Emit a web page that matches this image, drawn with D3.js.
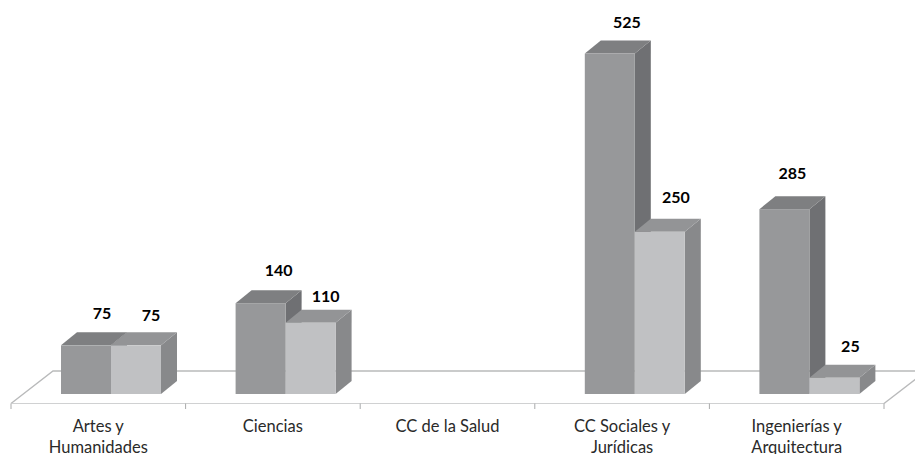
<!DOCTYPE html>
<html><head><meta charset="utf-8">
<script src="https://cdnjs.cloudflare.com/ajax/libs/d3/7.8.5/d3.min.js"></script>
<style>html,body{margin:0;padding:0;background:#fff}svg{display:block}text{font-family:Lato,"Open Sans",sans-serif}</style>
</head><body><svg id="c" width="915" height="454"></svg>
<script>
const categories = ["Artes y|Humanidades","Ciencias","CC de la Salud","CC Sociales y|Jurídicas","Ingenierías y|Arquitectura"];
const seriesNames = ["A","B"];
const valuesA = [75,140,0,525,285];
const valuesB = [75,110,0,250,25];
const nudgeA = [[-1,0],[1,-1],[0,0],[0,0],[-9,-4]];
const nudgeB = [[-2,2],[-2,5],[0,0],[-1,-3],[-1,0]];
const colorsA = {front:"#97989a",top:"#7e7f81",side:"#6f7073"};
const colorsB = {front:"#c0c1c3",top:"#939496",side:"#88898b"};

const svg = d3.select("#c");
const W=915,H=454, dx=16, dy=13;
const x = d3.scaleBand().domain(categories).range([11,884]);
const sub = d3.scaleBand().domain(seriesNames).range([50,150]);
const y = d3.scaleLinear().domain([0,525]).range([394,53.5]);
const gridC="#b9babb";
const floorY=403.5, backY=371, floorDx=42;

// floor
svg.append("path").attr("fill","none").attr("stroke",gridC).attr("stroke-width",1.4)
  .attr("d",`M${x.range()[0]},${floorY}L${x.range()[0]+floorDx},${backY}H${W}`);
svg.append("path").attr("fill","none").attr("stroke",gridC).attr("stroke-width",1.4)
  .attr("d",`M${x.range()[1]},${floorY}L${x.range()[1]+floorDx},${backY}`);
svg.append("line").attr("x1",x.range()[0]).attr("x2",x.range()[1]).attr("y1",floorY).attr("y2",floorY).attr("stroke","#d0d1d2").attr("stroke-width",1.2);
const edges = categories.map(c=>x(c)).concat([x.range()[1]]);
svg.selectAll("line.t").data(edges).join("line").attr("class","t")
  .attr("x1",d=>d).attr("x2",d=>d).attr("y1",floorY).attr("y2",floorY+5.5).attr("stroke","#a9aaab").attr("stroke-width",1);

// bars
function bars(vals,name,col){
  const w=sub.bandwidth();
  const g=svg.append("g").selectAll("g").data(categories.map((c,i)=>({c,v:vals[i]})).filter(d=>d.v>0)).join("g");
  const X=d=>x(d.c)+sub(name);
  g.append("path").attr("fill",col.side).attr("d",d=>`M${X(d)+w},${y(d.v)}l${dx},${-dy}V${y(0)-dy}l${-dx},${dy}Z`);
  g.append("path").attr("fill",col.top).attr("d",d=>`M${X(d)},${y(d.v)}l${dx},${-dy}h${w}l${-dx},${dy}Z`);
  g.append("rect").attr("fill",col.front).attr("x",X).attr("y",d=>y(d.v)).attr("width",w).attr("height",d=>y(0)-y(d.v));
}
bars(valuesA,"A",colorsA);
bars(valuesB,"B",colorsB);

// value labels
function labels(vals,name,nudge){
  svg.append("g").selectAll("text").data(vals.map((v,i)=>({v,i,c:categories[i]})).filter(d=>d.v>0)).join("text")
   .attr("text-anchor","middle").attr("font-weight",700).attr("font-size",16).attr("fill","#000")
   .attr("x",d=>x(d.c)+sub(name)+42+nudge[d.i][0])
   .attr("y",d=>y(d.v)-26+nudge[d.i][1])
   .text(d=>d.v);
}
labels(valuesA,"A",nudgeA);
labels(valuesB,"B",nudgeB);

// category labels
const t=svg.append("g").selectAll("text").data(categories).join("text")
  .attr("text-anchor","middle").attr("font-size",16.5).attr("fill","#2a2a2a");
t.each(function(c){
  const cx=x(c)+x.bandwidth()/2;
  c.split("|").forEach((s,i)=>d3.select(this).append("tspan").attr("x",cx).attr("y",432+i*21).text(s));
});
</script></body></html>
